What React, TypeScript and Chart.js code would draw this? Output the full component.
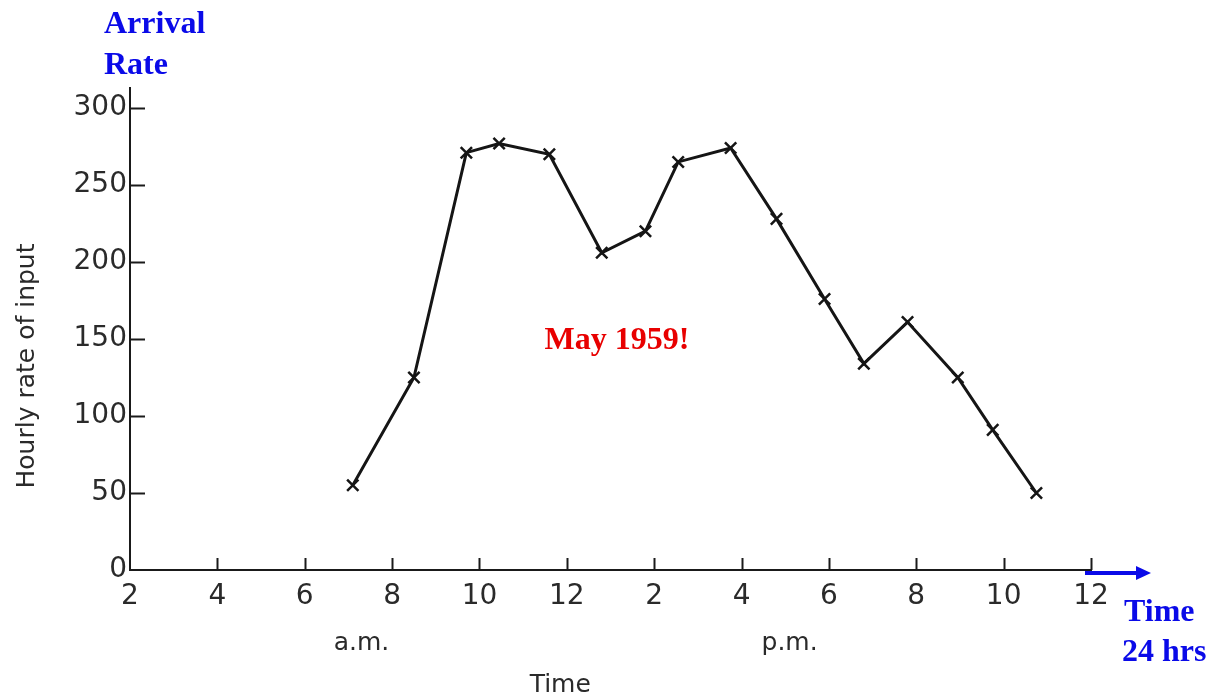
import React, { useEffect, useRef } from "react";
import { Chart, registerables } from "chart.js";

Chart.register(...registerables);

// Hour of day (2 = 2 a.m., 24 = 12 midnight)
const hours = [7.1, 8.5, 9.7, 10.45, 11.6, 12.8, 13.8, 14.55, 15.75, 16.8, 17.9, 18.8, 19.8, 20.95, 21.75, 22.75];
// Hourly rate of input
const rates = [55, 125, 271, 277, 270, 206, 220, 265, 274, 228, 176, 134, 161, 125, 91, 50];

const xMin = 2;
const xMax = 24;
const xStep = 2;
const yMin = 0;
const yMax = 313;
const yStep = 50;

const periodLabels = ["a.m.", "p.m."];
const periodHours = [7.3, 17.1];
const xTitle = "Time";
const xTitleHour = 11.85;
const yTitle = "Hourly rate of input";
const cornerTitle = ["Arrival", "Rate"];
const arrowTitle = ["Time", "24 hrs"];
const noteText = "May 1959!";
const noteHour = 13.15;
const noteRate = 143.5;

const formatHour = (v: number) => (v > 12 ? v - 12 : v);

const overlayPlugin = {
  id: "overlay",
  afterDraw(chart: any) {
    const { ctx, chartArea } = chart;
    const x = chart.scales.x;
    const y = chart.scales.y;
    ctx.save();

    // inner tick marks
    ctx.strokeStyle = "#1a1a1a";
    ctx.lineWidth = 2;
    x.ticks.forEach((t: any) => {
      if (t.value === xMin) return;
      const px = Math.round(x.getPixelForValue(t.value)) + 0.5;
      ctx.beginPath();
      ctx.moveTo(px, chartArea.bottom);
      ctx.lineTo(px, chartArea.bottom - 12);
      ctx.stroke();
    });
    y.ticks.forEach((t: any) => {
      if (t.value === yMin) return;
      const py = Math.round(y.getPixelForValue(t.value)) + 0.5;
      ctx.beginPath();
      ctx.moveTo(chartArea.left, py);
      ctx.lineTo(chartArea.left + 15, py);
      ctx.stroke();
    });

    // blue arrow at end of time axis
    const ay = chartArea.bottom + 3;
    ctx.strokeStyle = "#0a0ae8";
    ctx.fillStyle = "#0a0ae8";
    ctx.lineWidth = 4;
    ctx.beginPath();
    ctx.moveTo(chartArea.right - 6, ay);
    ctx.lineTo(chartArea.right + 48, ay);
    ctx.stroke();
    ctx.beginPath();
    ctx.moveTo(chartArea.right + 45, ay - 7);
    ctx.lineTo(chartArea.right + 60, ay);
    ctx.lineTo(chartArea.right + 45, ay + 7);
    ctx.closePath();
    ctx.fill();

    // blue titles
    ctx.font = "bold 32px 'Liberation Serif', 'Times New Roman', serif";
    ctx.textAlign = "left";
    ctx.textBaseline = "alphabetic";
    ctx.fillText(cornerTitle[0], chartArea.left - 26, 33);
    ctx.fillText(cornerTitle[1], chartArea.left - 26, 74);
    ctx.fillText(arrowTitle[0], chartArea.right + 33, 621);
    ctx.fillText(arrowTitle[1], chartArea.right + 31, 661);

    // red note
    ctx.fillStyle = "#e80000";
    ctx.textAlign = "center";
    ctx.fillText(noteText, x.getPixelForValue(noteHour), y.getPixelForValue(noteRate));

    // black axis annotations
    ctx.fillStyle = "#2a2a2a";
    ctx.font = "25px 'DejaVu Sans', sans-serif";
    ctx.textAlign = "center";
    ctx.textBaseline = "middle";
    periodLabels.forEach((lab, i) => {
      ctx.fillText(lab, x.getPixelForValue(periodHours[i]), 643);
    });
    ctx.fillText(xTitle, x.getPixelForValue(xTitleHour), 685);

    ctx.translate(27, 366);
    ctx.rotate(-Math.PI / 2);
    ctx.fillText(yTitle, 0, 0);

    ctx.restore();
  },
};

export default function App() {
  const ref = useRef<HTMLCanvasElement | null>(null);

  useEffect(() => {
    if (!ref.current) return;
    const chart = new Chart(ref.current, {
      type: "line",
      data: {
        datasets: [
          {
            data: hours.map((h, i) => ({ x: h, y: rates[i] })),
            borderColor: "#151515",
            borderWidth: 3,
            tension: 0,
            pointStyle: "crossRot",
            pointRadius: 8,
            pointBorderWidth: 2.5,
            pointBorderColor: "#151515",
            pointBackgroundColor: "#151515",
            fill: false,
          },
        ],
      },
      options: {
        responsive: false,
        animation: false,
        layout: { padding: { left: 0, right: 125, top: 88, bottom: 0 } },
        plugins: { legend: { display: false }, tooltip: { enabled: false } },
        scales: {
          x: {
            type: "linear",
            min: xMin,
            max: xMax,
            afterFit: (s: any) => {
              s.height = 130;
            },
            ticks: {
              stepSize: xStep,
              autoSkip: false,
              maxRotation: 0,
              padding: 10,
              color: "#2a2a2a",
              font: { family: "'DejaVu Sans', sans-serif", size: 28 },
              callback: (v: any) => String(formatHour(Number(v))),
            },
            grid: { display: true, drawOnChartArea: false, drawTicks: false },
            border: { display: true, color: "#1a1a1a", width: 2 },
          },
          y: {
            type: "linear",
            min: yMin,
            max: yMax,
            afterFit: (s: any) => {
              s.width = 130;
            },
            ticks: {
              stepSize: yStep,
              includeBounds: false,
              padding: 3,
              color: "#2a2a2a",
              font: { family: "'DejaVu Sans', sans-serif", size: 28 },
            },
            grid: { display: true, drawOnChartArea: false, drawTicks: false },
            border: { display: true, color: "#1a1a1a", width: 2 },
          },
        },
      },
      plugins: [overlayPlugin],
    });
    return () => chart.destroy();
  }, []);

  return (
    <div style={{ position: "absolute", left: 0, top: 0, width: 1216, height: 700, background: "#fff" }}>
      <canvas ref={ref} width={1216} height={700} style={{ display: "block" }} />
    </div>
  );
}
